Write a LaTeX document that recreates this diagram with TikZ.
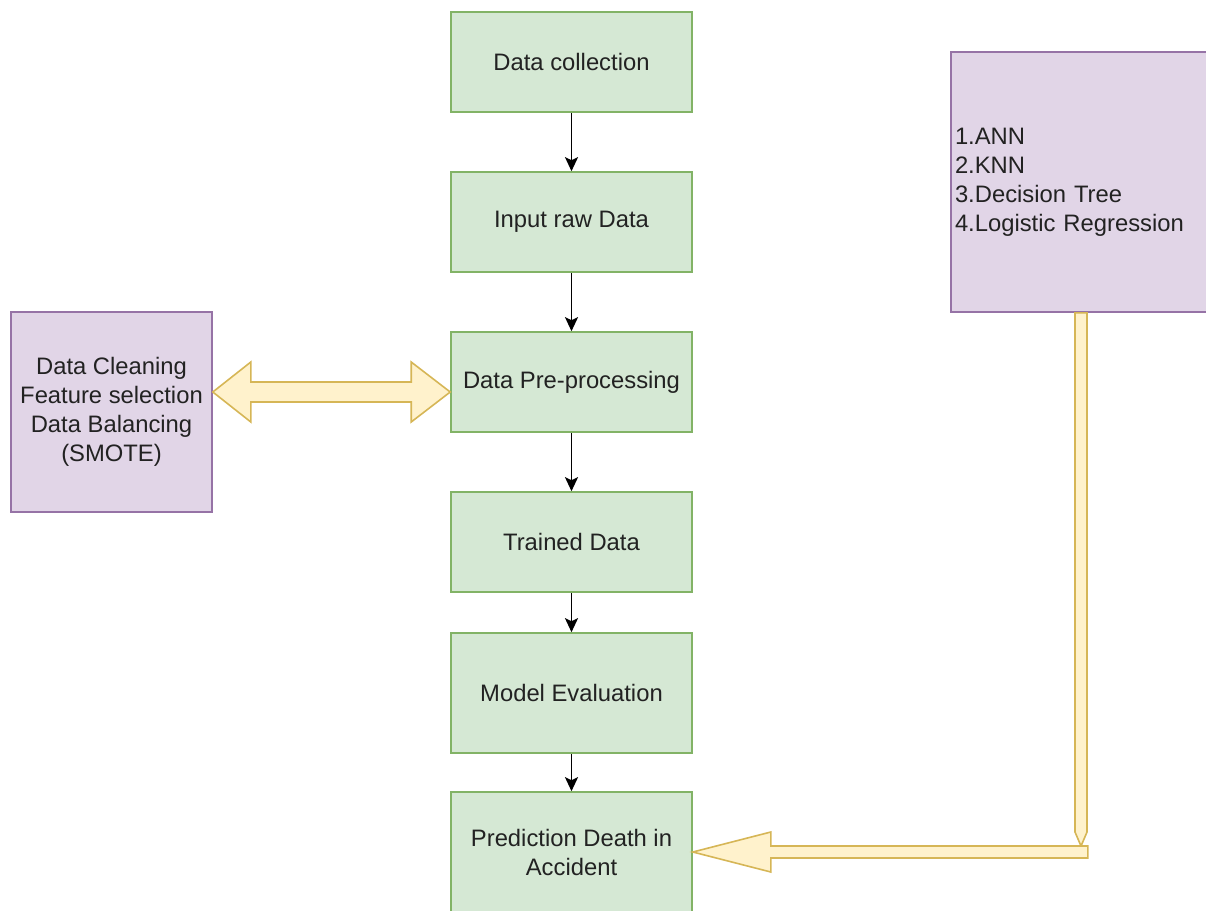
\documentclass[tikz,border=0pt]{standalone}
\usepackage{fontspec}
\setmainfont{Liberation Sans}
\usetikzlibrary{arrows.meta,calc}
\definecolor{gfill}{HTML}{D5E8D4}
\definecolor{gline}{HTML}{82B366}
\definecolor{pfill}{HTML}{E1D5E7}
\definecolor{pline}{HTML}{9673A6}
\definecolor{yfill}{HTML}{FFF2CC}
\definecolor{yline}{HTML}{D6B656}
\definecolor{txt}{HTML}{222222}
\begin{document}
\begin{tikzpicture}[x=1pt,y=-1pt,
  every node/.style={font=\fontsize{23.8}{29}\selectfont, text=txt},
  stepbox/.style={draw=gline, fill=gfill, line width=1.6pt, minimum width=241pt, inner sep=0pt, align=center},
  notebox/.style={draw=pline, fill=pfill, line width=1.6pt, inner sep=0pt},
  flow/.style={line width=1.8pt, -{Stealth[length=14pt,width=13pt,inset=3pt]}},
  fat/.style={draw=yline, fill=yfill, line width=1.6pt, line join=miter}]
\useasboundingbox (0,0) rectangle (1206,910);
\clip (0,0) rectangle (1206,910);

% main pipeline
\node[stepbox, minimum height=100pt] (dc)  at (571.5,62)  {Data collection};
\node[stepbox, minimum height=100pt] (ird) at (571.5,222) {Input raw Data};
\node[stepbox, minimum height=100pt] (dpp) at (571.5,382) {Data Pre-processing};
\node[stepbox, minimum height=100pt] (td)  at (571.5,542) {Trained Data};
\node[stepbox, minimum height=120pt] (me)  at (571.5,693) {Model Evaluation};
\node[stepbox, minimum height=120pt] (pda) at (571.5,852) {Prediction Death in\\Accident};

% side notes
\node[notebox, minimum width=201pt, minimum height=200pt, align=center] (lb) at (111.5,412)
  {Data Cleaning\\Feature selection\\Data Balancing\\(SMOTE)};
\node[notebox, text width=257pt, inner xsep=4pt, minimum height=260pt, align=left] (rb) at (1083.5,182)
  {1.ANN\\2.KNN\\3.Decision Tree\\4.Logistic Regression};

% flow arrows
\draw[flow] (dc)  -- (ird);
\draw[flow] (ird) -- (dpp);
\draw[flow] (dpp) -- (td);
\draw[flow] (td)  -- (me);
\draw[flow] (me)  -- (pda);

% two-way block arrow between preprocessing and its notes
\coordinate (dl) at (lb.east |- 0,392);
\coordinate (dr) at (dpp.west |- 0,392);
\draw[fat] (dl) -- ++(38,-30) -- ++(0,20) -- ($(dr)+(-39,-10)$) -- ++(0,-20) -- (dr)
  -- ++(-39,30) -- ++(0,-20) -- ($(dl)+(38,10)$) -- ++(0,20) -- cycle;

% block arrow from the model list down and into the prediction step
\coordinate (bend) at (1081,846);
\draw[fat] ($(rb.south -| bend)+(-6,0)$) -- ($(rb.south -| bend)+(6,0)$)
  -- ($(bend)+(6,-14)$) -- (bend) -- ($(bend)+(-6,-14)$) -- cycle;
\draw[fat] (pda.east) -- ++(78,-20) -- ++(0,14) -- ++(317,0) -- ++(0,12)
  -- ++(-317,0) -- ++(0,14) -- cycle;
\end{tikzpicture}
\end{document}
